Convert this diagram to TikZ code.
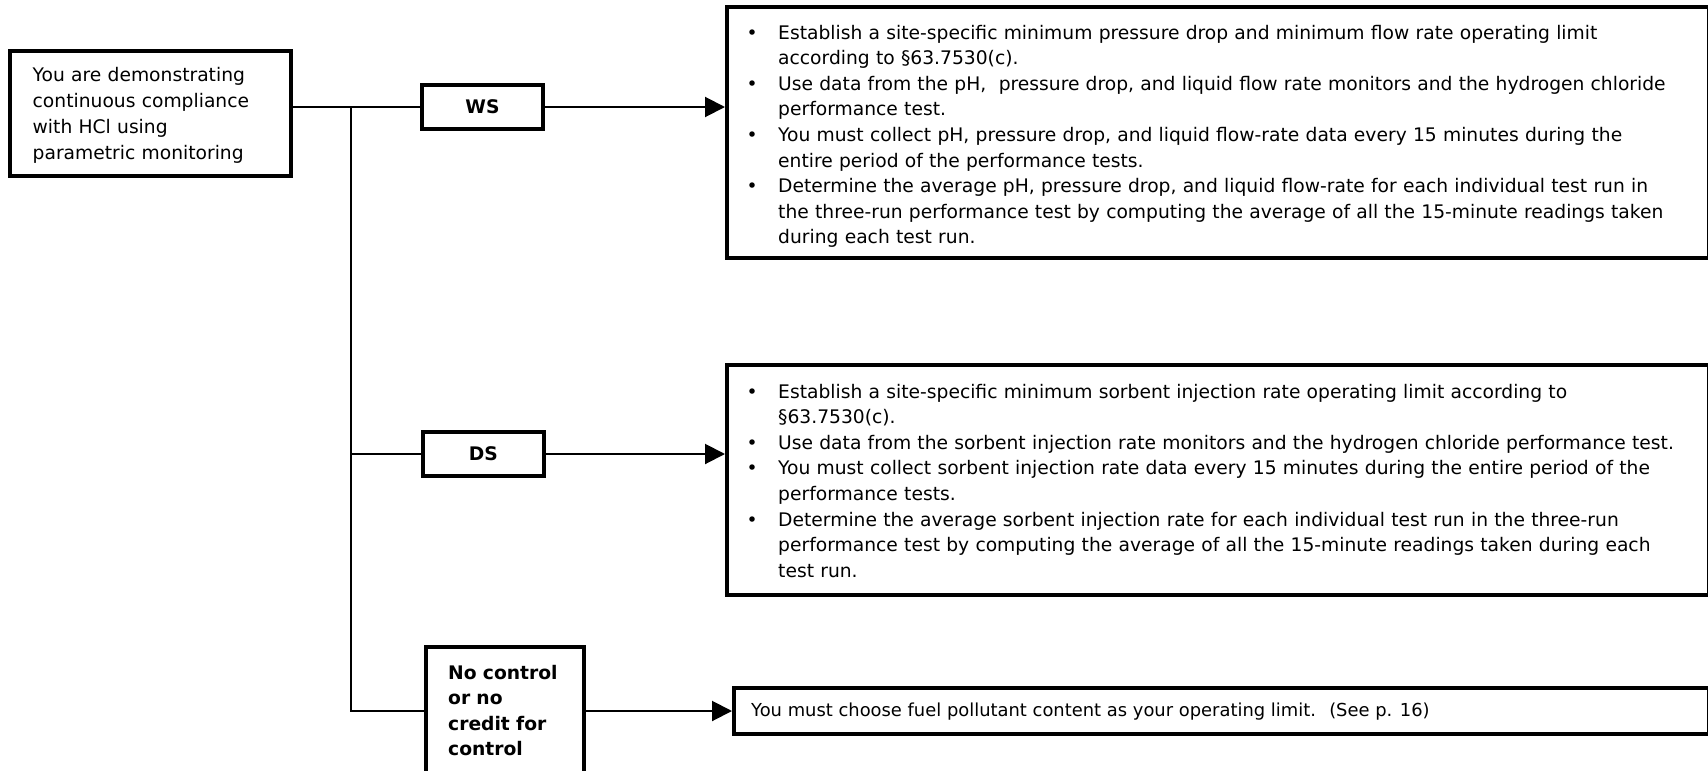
\documentclass[tikz,border=0pt]{standalone}
\usepackage{fontspec}
\setmainfont{DejaVu Sans}
\usetikzlibrary{arrows.meta}
\begin{document}
\begin{tikzpicture}[x=1pt,y=-1pt,
  box/.style={draw, line width=4pt, rectangle, inner sep=0pt},
  conn/.style={line width=2pt},
  arr/.style={line width=2pt, -{Triangle[length=20pt,width=20pt]}},
  body/.style={font=\fontsize{18.7}{25.6}\selectfont, inner sep=0pt, anchor=base west, align=left},
  boldtext/.style={font=\fontsize{18.7}{25.6}\selectfont\bfseries},
  smalltext/.style={font=\fontsize{17.9}{25.6}\selectfont}
]
% one bulleted item with a hanging indent; lines inside it break with \newline
\newcommand{\bitem}{\hangindent=33pt\hangafter=1\noindent\makebox[14pt]{\textbullet}\hspace{19pt}}
\useasboundingbox (0,0) rectangle (1708,771);

% boxes
\node[box, minimum width=280.2pt, minimum height=124.7pt] (start) at (150.4,113.65) {};
\node[box, boldtext, minimum width=121pt, minimum height=44pt] (ws) at (482.5,107) {WS};
\node[box, boldtext, minimum width=121pt, minimum height=44pt] (ds) at (483.3,454) {DS};
\node[box, minimum width=158pt, minimum height=128pt] (nc) at (505,711) {};
\node[box, minimum width=982pt, minimum height=250.7pt] (box1) at (1218,132.65) {};
\node[box, minimum width=982pt, minimum height=229.4pt] (box2) at (1218,480) {};
\node[box, minimum width=975pt, minimum height=46pt] (box3) at (1221.5,711) {};

% texts
\node[body, font=\fontsize{18.7}{26}\selectfont, text width=260pt] (starttext) at (32.5,81)
  {You are demonstrating\\continuous compliance\\with HCl using\\parametric monitoring};
\node[body, boldtext, text width=130pt] (nctext) at (448,679)
  {No control\\or no\\credit for\\control};
\node[body, text width=960pt] (box1text) at (745,39) {%
  \bitem Establish a site-specific minimum pressure drop and minimum flow rate operating limit\newline according to §63.7530(c).\par
  \bitem Use data from the pH,~ pressure drop, and liquid flow rate monitors and the hydrogen chloride\newline performance test.\par
  \bitem You must collect pH, pressure drop, and liquid flow-rate data every 15 minutes during the\newline entire period of the performance tests.\par
  \bitem Determine the average pH, pressure drop, and liquid flow-rate for each individual test run in\newline the three-run performance test by computing the average of all the 15-minute readings taken\newline during each test run.\par};
\node[body, text width=960pt] (box2text) at (745,398) {%
  \bitem Establish a site-specific minimum sorbent injection rate operating limit according to\newline §63.7530(c).\par
  \bitem Use data from the sorbent injection rate monitors and the hydrogen chloride performance test.\par
  \bitem You must collect sorbent injection rate data every 15 minutes during the entire period of the\newline performance tests.\par
  \bitem Determine the average sorbent injection rate for each individual test run in the three-run\newline performance test by computing the average of all the 15-minute readings taken during each\newline test run.\par};
\node[body, smalltext] (box3text) at (751,716)
  {You must choose fuel pollutant content as your operating limit.~ (See p. 16)};

% connectors
\coordinate (jtop) at (351,107);
\coordinate (jbot) at (351,711);
\draw[conn] (start.east |- ws.west) -- (ws.west);
\draw[conn] (jtop) -- (jbot) -- (nc.west);
\draw[conn] (jtop |- ds.west) -- (ds.west);
\draw[arr] (ws.east) -- (ws.east -| box1.west);
\draw[arr] (ds.east) -- (ds.east -| box2.west);
\draw[arr] (nc.east) -- (nc.east -| box3.west);
\end{tikzpicture}
\end{document}
